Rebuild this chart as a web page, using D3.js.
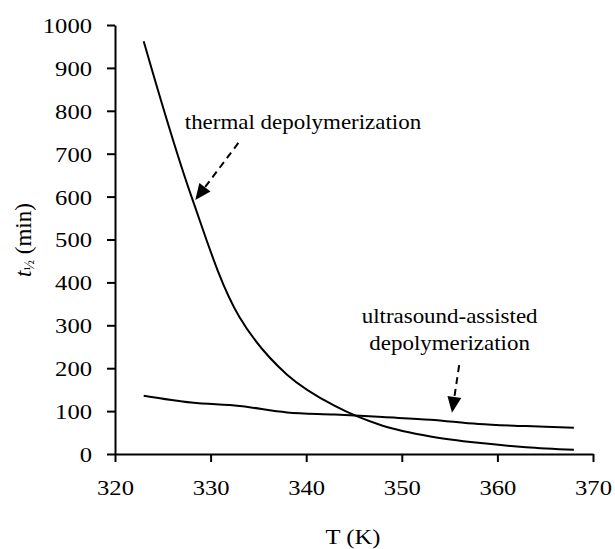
<!DOCTYPE html>
<html>
<head>
<meta charset="utf-8">
<script src="https://cdn.jsdelivr.net/npm/d3@7"></script>
<style>
  html, body { margin: 0; padding: 0; background: #fff; }
  svg text { font-family: "Liberation Serif", "Times New Roman", serif; fill: #000; }
</style>
</head>
<body>
<svg id="chart" width="615" height="549"></svg>
<script>
// ---- data ----
const temperatures = [323, 328, 333, 338, 343, 348, 353, 358, 363, 368];
const thermalHalfLife = [962, 600, 320, 185, 112, 66, 41, 26, 16, 10];
const ultrasoundHalfLife = [136, 120, 112, 97, 92, 86, 80, 70, 65, 61];
const xTicks = [320, 330, 340, 350, 360, 370];
const yTicks = [0, 100, 200, 300, 400, 500, 600, 700, 800, 900, 1000];

// annotations in data coordinates
const thermalLabel = { text: "thermal depolymerization", T: 327.3, v: 757 };
const thermalArrow = { from: [332.9, 725], to: [328.4, 592] };
const ultraLabel = { lines: ["ultrasound-assisted", "depolymerization"], T: 355.0, v: 305 };
const ultraArrow = { from: [356.0, 207], to: [355.25, 96] };

// ---- layout ----
const svg = d3.select("#chart");
const mLeft = 115, mRight = 593, mTop = 25, mBottom = 454;
const stretch = 1.12;

const x = d3.scaleLinear().domain([320, 370]).range([mLeft, mRight]);
const y = d3.scaleLinear().domain([0, 1000]).range([mBottom, mTop]);

// axes
const xAxis = svg.append("g")
  .attr("transform", `translate(0,${mBottom})`)
  .call(d3.axisBottom(x).tickValues(xTicks).tickSize(8).tickSizeOuter(0).tickFormat(d3.format("d")));
xAxis.selectAll("text")
  .attr("y", 25).attr("dy", "0.71em")
  .attr("transform", `scale(${stretch},1)`)
  .style("font-size", "22px");

const yAxis = svg.append("g")
  .attr("transform", `translate(${mLeft},0)`)
  .call(d3.axisLeft(y).tickValues(yTicks).tickSize(8).tickSizeOuter(0).tickFormat(d3.format("d")));
yAxis.selectAll("text")
  .attr("x", -20.5).attr("dy", "0.34em")
  .attr("transform", `scale(${stretch},1)`)
  .style("font-size", "22px");

svg.selectAll(".domain, .tick line").attr("stroke", "#000").attr("stroke-width", 2);

// series lines
const line = d3.line()
  .x((d, i) => x(temperatures[i]))
  .y(d => y(d))
  .curve(d3.curveCatmullRom.alpha(0.5));

svg.append("path").datum(thermalHalfLife)
  .attr("d", line).attr("fill", "none").attr("stroke", "#000").attr("stroke-width", 2);
svg.append("path").datum(ultrasoundHalfLife)
  .attr("d", line).attr("fill", "none").attr("stroke", "#000").attr("stroke-width", 2);

// axis titles
svg.append("text")
  .attr("x", 353 / stretch).attr("y", 544)
  .attr("transform", `scale(${stretch},1)`)
  .attr("text-anchor", "middle")
  .style("font-size", "22px")
  .text("T (K)");

const yl = svg.append("text")
  .attr("transform", "translate(31,240) rotate(-90)")
  .attr("text-anchor", "middle")
  .style("font-size", "23px");
yl.append("tspan").style("font-style", "italic").text("t");
yl.append("tspan").style("font-size", "14px").attr("dy", 3).text("½");
yl.append("tspan").attr("dy", -3).text(" (min)");

// annotations
function arrow(a) {
  const x0 = x(a.from[0]), y0 = y(a.from[1]);
  const x1 = x(a.to[0]), y1 = y(a.to[1]);
  const ang = Math.atan2(y1 - y0, x1 - x0);
  const headLen = 16, headW = 7;
  const bx = x1 - headLen * Math.cos(ang), by = y1 - headLen * Math.sin(ang);
  svg.append("line")
    .attr("x1", x0).attr("y1", y0).attr("x2", bx).attr("y2", by)
    .attr("stroke", "#000").attr("stroke-width", 2).attr("stroke-dasharray", "7,5");
  const px = -Math.sin(ang), py = Math.cos(ang);
  svg.append("path")
    .attr("d", `M${x1},${y1}L${bx + px * headW},${by + py * headW}L${bx - px * headW},${by - py * headW}Z`)
    .attr("fill", "#000");
}

svg.append("text")
  .attr("x", x(thermalLabel.T) / stretch).attr("y", y(thermalLabel.v))
  .attr("transform", `scale(${stretch},1)`)
  .style("font-size", "20.5px")
  .text(thermalLabel.text);
arrow(thermalArrow);

ultraLabel.lines.forEach((t, i) => {
  svg.append("text")
    .attr("x", x(ultraLabel.T) / stretch).attr("y", y(ultraLabel.v) + i * 27)
    .attr("transform", `scale(${stretch},1)`)
    .attr("text-anchor", "middle")
    .style("font-size", "20.5px")
    .text(t);
});
arrow(ultraArrow);
</script>
</body>
</html>
